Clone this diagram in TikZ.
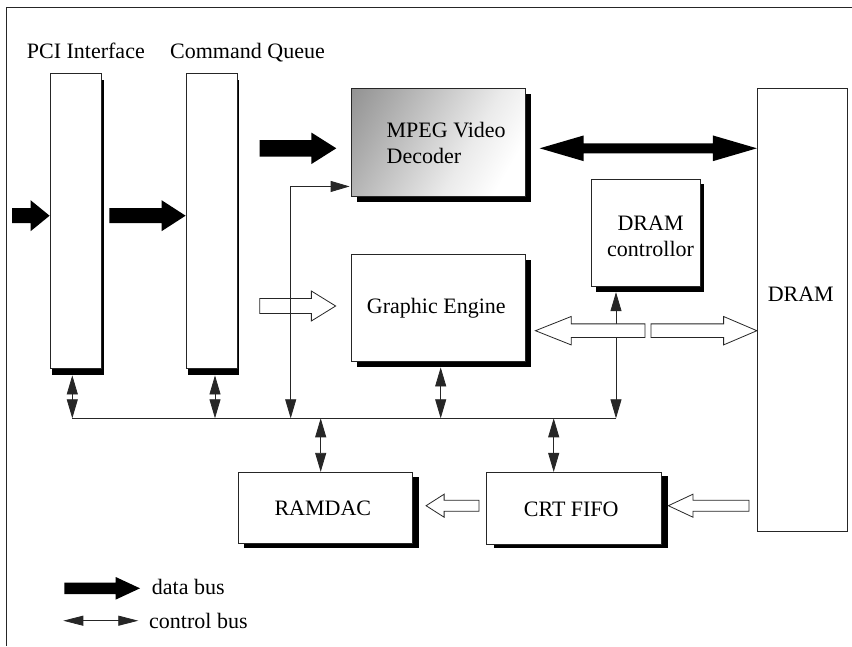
\documentclass[tikz,border=0pt]{standalone}
\usepackage{fontspec}
\setmainfont{Liberation Serif}
\usetikzlibrary{arrows.meta,shadows,calc}

% grey-to-white fade used for the decoder block
\pgfdeclarehorizontalshading{mpegfade}{100bp}{color(0bp)=(black!55); color(30bp)=(black!32); color(60bp)=(black!8); color(75bp)=(white); color(100bp)=(white)}

% horizontal block arrow: style, tail, tip, shaft half-width, head half-width, head length
\newcommand{\blockarrow}[6]{%
  \path[#1] let \p1=#2, \p2=#3, \n1={sign(\x2-\x1)} in
    (\x1,\y1+#4) -- ({\x2-(\n1)*#6},\y1+#4) -- ({\x2-(\n1)*#6},\y1+#5) -- (\x2,\y1)
    -- ({\x2-(\n1)*#6},\y1-#5) -- ({\x2-(\n1)*#6},\y1-#4) -- (\x1,\y1-#4) -- cycle;}

% horizontal double-headed block arrow: style, tip 1, tip 2, shaft half-width, head half-width, head length
\newcommand{\blockdarrow}[6]{%
  \path[#1] let \p1=#2, \p2=#3, \n1={sign(\x2-\x1)} in
    (\x1,\y1) -- ({\x1+(\n1)*#6},\y1+#5) -- ({\x1+(\n1)*#6},\y1+#4) -- ({\x2-(\n1)*#6},\y1+#4)
    -- ({\x2-(\n1)*#6},\y1+#5) -- (\x2,\y1) -- ({\x2-(\n1)*#6},\y1-#5) -- ({\x2-(\n1)*#6},\y1-#4)
    -- ({\x1+(\n1)*#6},\y1-#4) -- ({\x1+(\n1)*#6},\y1-#5) -- cycle;}

\begin{document}
\begin{tikzpicture}[x=1pt,y=-1pt,
  txt/.style={font=\fontsize{22}{26}\selectfont, inner sep=0pt, text=black},
  blk/.style={draw=black!85, line width=0.8pt, fill=white, inner sep=0pt},
  shd/.style 2 args={drop shadow={shadow xshift=#1pt, shadow yshift=-#2pt, fill=black, opacity=1}},
  ctl/.style={draw=black!85, line width=0.8pt, >={Triangle[length=19pt,width=11pt]}},
  legctl/.style={draw=black!85, line width=0.8pt, >={Triangle[length=20pt,width=10pt]}},
  datafill/.style={fill=black},
  hollow/.style={draw=black!85, fill=white, line width=0.8pt, line join=miter}]

\useasboundingbox (0,0) rectangle (852,646);

% page frame
\draw[black!85, line width=1pt] (6,646) -- (6,7) -- (852,7);

% functional blocks
\node[blk, shd={2}{7}, minimum width=51.5pt, minimum height=295pt] (pci) at (75.75,220.5) {};
\node[blk, shd={2}{7}, minimum width=51pt, minimum height=295pt] (cq) at (211.5,220.5) {};
\node[blk, shd={6}{6}, shade, shading=mpegfade, shading angle=-30,
      minimum width=174pt, minimum height=107.7pt] (mpeg) at (438,142.2) {};
\node[blk, shd={6}{6}, minimum width=174.3pt, minimum height=107pt] (ge) at (438.2,307.5) {};
\node[blk, shd={4}{5}, minimum width=108.6pt, minimum height=107.7pt] (dramc) at (646,232.9) {};
\node[blk, minimum width=90.4pt, minimum height=443.4pt] (dram) at (802.5,310) {};
\node[blk, shd={6}{5}, minimum width=174.4pt, minimum height=71pt] (ramdac) at (325.5,507.8) {};
\node[blk, shd={7}{4}, minimum width=174.3pt, minimum height=71.7pt] (crt) at (573.8,508.2) {};

% block labels
\node[txt, anchor=base west] (pcilbl) at (26.7,58.3) {PCI Interface};
\node[txt, anchor=base west] (cqlbl) at (170,58.3) {Command Queue};
\node[txt, align=left] (mpeglbl) at ([shift={(8.2,0.6)}]mpeg.center) {MPEG Video\\Decoder};
\node[txt, anchor=base] (gelbl) at (436.3,313.3) {Graphic Engine};
\node[txt, align=center] (dramclbl) at (650.6,236.8) {DRAM\\controllor};
\node[txt, anchor=base] (dramlbl) at (800.8,301.7) {DRAM};
\node[txt, anchor=base] (ramdaclbl) at (322.8,515) {RAMDAC};
\node[txt, anchor=base] (crtlbl) at (571.3,516) {CRT FIFO};

% control bus
\coordinate (busL) at (72.3,418.3);
\coordinate (busR) at (616.3,418.3);
\coordinate (mpegbus) at (290.7,418.3);
\coordinate (mpegin) at ($(mpeg.south west)+(-1,-10)$);
\coordinate (pcic) at ($(pci.south)+(-3.45,7)$);
\coordinate (cqc) at ($(cq.south)+(3.5,7)$);
\coordinate (gec) at ($(ge.south)+(2.5,6)$);
\coordinate (dcc) at ($(dramc.south)+(-30,5)$);
\coordinate (rdc) at ($(ramdac.north)+(-4.8,0)$);
\coordinate (crc) at ($(crt.north)+(-20.1,0)$);

% data path into the graphic engine (crossed by the decoder control line)
\coordinate (gein) at ($(ge.west)+(-15,-1.5)$);
\blockarrow{hollow}{($(gein)+(-76,0)$)}{(gein)}{7.5pt}{15pt}{24.3pt}

\draw[ctl] (busL) -- (busR);
\draw[ctl, <->] (pcic) -- (busL);
\draw[ctl, <->] (cqc) -- (cqc |- busL);
\draw[ctl, <->] (mpegin) -| (mpegbus);
\draw[ctl, <->] (gec) -- (gec |- busL);
\draw[ctl, <->] (dcc) -- (dcc |- busL);
\draw[ctl, <->] (rdc |- busL) -- (rdc);
\draw[ctl, <->] (crc |- busL) -- (crc);

% data bus (solid block arrows)
\coordinate (pciin) at (12,215.7);
\blockarrow{datafill}{(pciin)}{(pciin -| pci.west)}{7.5pt}{15.5pt}{19pt}
\blockarrow{datafill}{($(pciin -| pci.east)+(7.5,0)$)}{(pciin -| cq.west)}{7.5pt}{15.5pt}{24pt}
\coordinate (mpegdin) at ($(mpeg.west)+(-14.3,6.1)$);
\blockarrow{datafill}{($(mpegdin)+(-76.7,0)$)}{(mpegdin)}{8.3pt}{15.8pt}{25pt}
\coordinate (mpegout) at ($(mpeg.east)+(14.3,6.1)$);
\blockdarrow{datafill}{(mpegout)}{(mpegout -| dram.west)}{5pt}{12.85pt}{44pt}

% memory data paths (hollow block arrows)
\coordinate (gefb) at ($(ge.east)+(9.7,23.2)$);
\blockarrow{hollow}{(645,330.7)}{(gefb)}{6.85pt}{14.2pt}{35.7pt}
\blockarrow{hollow}{(651,330.7)}{(gefb -| dram.west)}{6.85pt}{14.2pt}{33.3pt}
\coordinate (crtout) at ($(ramdac.east)+(13,-2.1)$);
\blockarrow{hollow}{(479,505.7)}{(crtout)}{5.5pt}{11.5pt}{18pt}
\coordinate (crtin) at ($(crt.east)+(7,-2.5)$);
\blockarrow{hollow}{($(crtin -| dram.west)+(-8,0)$)}{(crtin)}{5.5pt}{11.5pt}{24.6pt}

% legend
\coordinate (legdA) at (64.3,588.3);
\coordinate (legdB) at (140,588.3);
\blockarrow{datafill}{(legdA)}{(legdB)}{5.8pt}{11.3pt}{24.3pt}
\node[txt, anchor=base west] (datalbl) at (151.7,594.3) {data bus};
\coordinate (legcA) at (63.3,620.7);
\coordinate (legcB) at (138.3,620.7);
\draw[legctl, <->] (legcA) -- (legcB);
\node[txt, anchor=base west] (ctrllbl) at (149,628.3) {control bus};
\end{tikzpicture}
\end{document}
